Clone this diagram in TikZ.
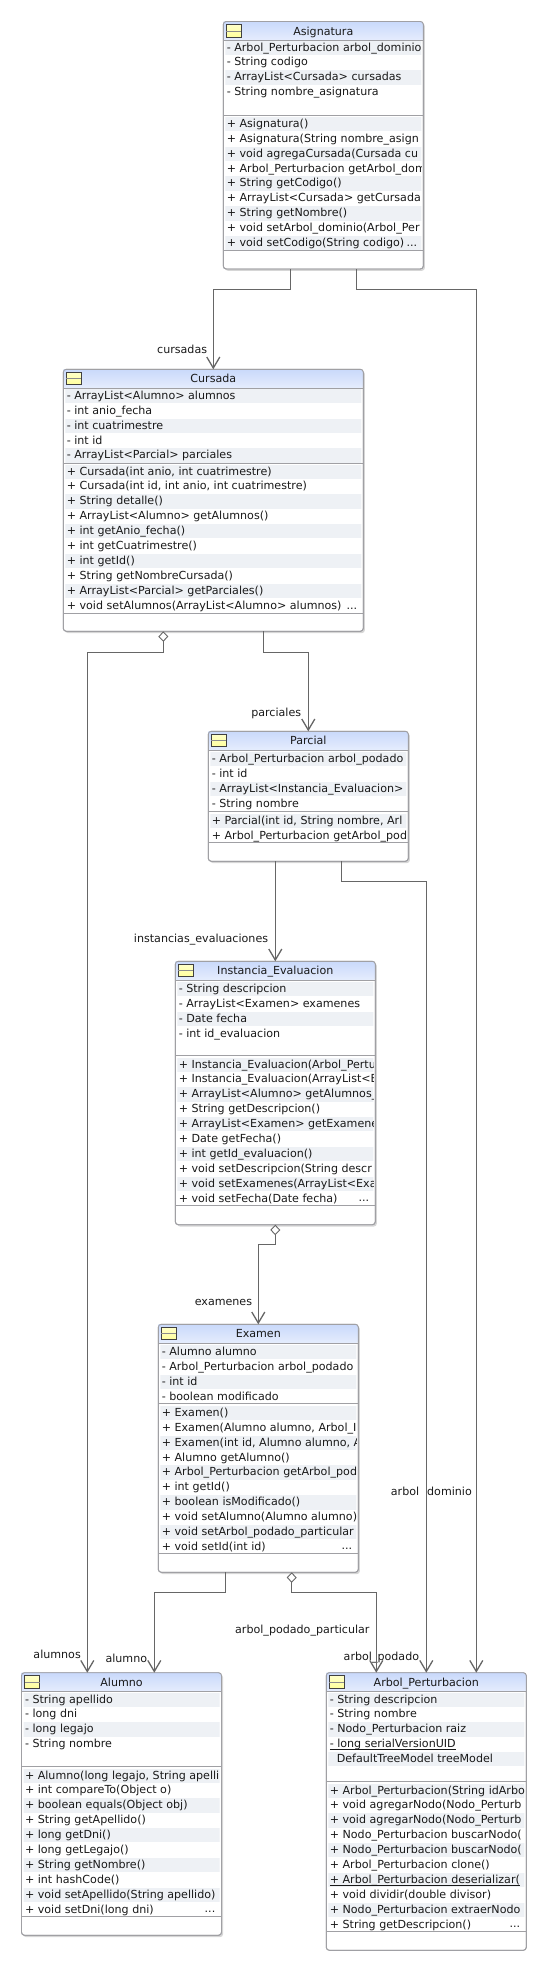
\documentclass[tikz,border=0pt]{standalone}
\usepackage{fontspec}
\setmainfont{DejaVu Sans}
\usetikzlibrary{arrows.meta}
\usetikzlibrary{shadows}
\usetikzlibrary{calc}
\definecolor{linegray}{HTML}{666666}
\definecolor{boxgray}{HTML}{A0A0A4}
\definecolor{stripe}{HTML}{EEF1F5}
\definecolor{headtop}{HTML}{C9D9FB}
\definecolor{headbot}{HTML}{E6EDFD}
\definecolor{iconfill}{HTML}{FFFF9C}
\tikzstyle{classbox}=[draw=boxgray,fill=white,rounded corners=3,line width=.9,inner sep=0,outer sep=0]
\tikzstyle{shadowed}=[drop shadow={shadow xshift=1.6pt,shadow yshift=-1.8pt,fill=black!32}]
\tikzstyle{rowtext}=[inner sep=0,anchor=west,text height=8pt,text depth=0pt,font=\fontsize{11.1}{13}\selectfont,text=black!90]
\tikzstyle{linktext}=[rowtext,anchor=east]
\tikzstyle{sepline}=[draw=boxgray,line width=.9]
\tikzstyle{assoc}=[draw=linegray,line width=1,-{Straight Barb[length=11pt,width=13pt,line width=1.3pt]}]
\tikzstyle{aggr}=[draw=linegray,line width=1,{Diamond[length=10.5pt,width=10pt,fill=white,line width=.9pt]}-{Straight Barb[length=11pt,width=13pt,line width=1.3pt]}]
% class box: name, centre x, top y, width, height, title, extra style
\newcommand{\umlclass}[7]{
  \node[classbox,anchor=north,minimum width=#4,minimum height=#5,#7] at (#2,#3) (#1) {};
  \shade[top color=headtop,bottom color=headbot,rounded corners=3]
    (#1.north west) -- (#1.north east) -- ([yshift=-19]#1.north east) [sharp corners] -- ([yshift=-19]#1.north west) -- cycle;
  \draw[draw=boxgray,line width=.9,rounded corners=3] (#1.south west) rectangle (#1.north east);
  \draw[sepline] ([yshift=-19]#1.north west) -- ([yshift=-19]#1.north east);
  \node[rowtext,anchor=center] at ([yshift=-9.5]#1.north) (#1-title) {#6};
  \node[draw=black!75,line width=.8,top color=iconfill!55,bottom color=iconfill,inner sep=0,outer sep=0,
    minimum width=15,minimum height=12.5,anchor=north west] at ([xshift=3,yshift=-3]#1.north west) (#1-icon) {};
  \draw[draw=black!45,line width=.5] (#1-icon.west) -- (#1-icon.east);
}
% striped rows: class name, row prefix, first row y, texts
\newcommand{\umlrows}[4]{
  \begin{scope}
    \clip ([xshift=2]#1.south west) rectangle ([xshift=-2]#1.north east);
    \foreach \rowtxt [count=\i] in {#4} {
      \pgfmathsetmacro{\rowy}{#3+14.9*(\i-1)}
      \ifodd\i
        \fill[stripe] ($(#1.west |- 0,\rowy)+(0,-6.5)$) rectangle ($(#1.east |- 0,\rowy)+(0,7.8)$);
      \fi
      \node[rowtext,xshift=3.3] at (#1.west |- 0,\rowy) (#1-#2\i) {\rowtxt};
    }
  \end{scope}
}
\begin{document}
\begin{tikzpicture}[x=1pt,y=-1pt]
  \useasboundingbox (0,0) rectangle (547,1971);

  \umlclass{asignatura}{323.3}{21.5}{200}{247.5}{Asignatura}{shadowed}
  \umlrows{asignatura}{a}{47}{- Arbol\_Perturbacion arbol\_dominio,- String codigo,- ArrayList<Cursada> cursadas,- String nombre\_asignatura}
  \umlrows{asignatura}{m}{123.3}{+ Asignatura(),+ Asignatura(String nombre\_asign,+ void agregaCursada(Cursada cu,+ Arbol\_Perturbacion getArbol\_dom,+ String getCodigo(),+ ArrayList<Cursada> getCursada,+ String getNombre(),+ void setArbol\_dominio(Arbol\_Per,+ void setCodigo(String codigo)}
  \node[rowtext,anchor=east,xshift=-6] at (asignatura.east |- 0,242) (asignatura-more) {...};
  \draw[sepline] (asignatura.west |- 0,115) -- (asignatura.east |- 0,115);
  \draw[sepline] (asignatura.west |- 0,250.7) -- (asignatura.east |- 0,250.7);

  \umlclass{cursada}{213.3}{369.3}{300}{262}{Cursada}{shadowed}
  \umlrows{cursada}{a}{395.3}{- ArrayList<Alumno> alumnos,- int anio\_fecha,- int cuatrimestre,- int id,- ArrayList<Parcial> parciales}
  \umlrows{cursada}{m}{471}{{+ Cursada(int anio, int cuatrimestre)},{+ Cursada(int id, int anio, int cuatrimestre)},+ String detalle(),+ ArrayList<Alumno> getAlumnos(),+ int getAnio\_fecha(),+ int getCuatrimestre(),+ int getId(),+ String getNombreCursada(),+ ArrayList<Parcial> getParciales(),+ void setAlumnos(ArrayList<Alumno> alumnos)}
  \node[rowtext,anchor=east,xshift=-6] at (cursada.east |- 0,605) (cursada-more) {...};
  \draw[sepline] (cursada.west |- 0,463.3) -- (cursada.east |- 0,463.3);
  \draw[sepline] (cursada.west |- 0,613.3) -- (cursada.east |- 0,613.3);

  \umlclass{parcial}{308.3}{731.3}{200}{130}{Parcial}{shadowed}
  \umlrows{parcial}{a}{758.3}{- Arbol\_Perturbacion arbol\_podado,- int id,- ArrayList<Instancia\_Evaluacion>,- String nombre}
  \umlrows{parcial}{m}{820.3}{{+ Parcial(int id, String nombre, Arl},+ Arbol\_Perturbacion getArbol\_pod}
  \draw[sepline] (parcial.west |- 0,811.3) -- (parcial.east |- 0,811.3);
  \draw[sepline] (parcial.west |- 0,842.3) -- (parcial.east |- 0,842.3);

  \umlclass{instancia}{275.3}{961.3}{200}{263.4}{Instancia\_Evaluacion}{shadowed}
  \umlrows{instancia}{a}{988.3}{- String descripcion,- ArrayList<Examen> examenes,- Date fecha,- int id\_evaluacion}
  \umlrows{instancia}{m}{1064}{+ Instancia\_Evaluacion(Arbol\_Pertu,+ Instancia\_Evaluacion(ArrayList<E,+ ArrayList<Alumno> getAlumnos\_,+ String getDescripcion(),+ ArrayList<Examen> getExamene,+ Date getFecha(),+ int getId\_evaluacion(),+ void setDescripcion(String descr,+ void setExamenes(ArrayList<Exa,+ void setFecha(Date fecha)}
  \node[rowtext,anchor=east,xshift=-6] at (instancia.east |- 0,1197) (instancia-more) {...};
  \draw[sepline] (instancia.west |- 0,1055.3) -- (instancia.east |- 0,1055.3);
  \draw[sepline] (instancia.west |- 0,1205.3) -- (instancia.east |- 0,1205.3);

  \umlclass{examen}{258.3}{1324.3}{200}{248}{Examen}{shadowed}
  \umlrows{examen}{a}{1351.3}{- Alumno alumno,- Arbol\_Perturbacion arbol\_podado,- int id,- boolean modificado}
  \umlrows{examen}{m}{1412.3}{+ Examen(),{+ Examen(Alumno alumno, Arbol\_I},{+ Examen(int id, Alumno alumno, A},+ Alumno getAlumno(),+ Arbol\_Perturbacion getArbol\_pod,+ int getId(),+ boolean isModificado(),+ void setAlumno(Alumno alumno),+ void setArbol\_podado\_particular,+ void setId(int id)}
  \node[rowtext,anchor=east,xshift=-6] at (examen.east |- 0,1545) (examen-more) {...};
  \draw[sepline] (examen.west |- 0,1403.3) -- (examen.east |- 0,1403.3);
  \draw[sepline] (examen.west |- 0,1553.3) -- (examen.east |- 0,1553.3);

  \umlclass{alumno}{121.5}{1672.7}{200}{262.6}{Alumno}{shadowed}
  \umlrows{alumno}{a}{1699}{- String apellido,- long dni,- long legajo,- String nombre}
  \umlrows{alumno}{m}{1775}{{+ Alumno(long legajo, String apelli},+ int compareTo(Object o),+ boolean equals(Object obj),+ String getApellido(),+ long getDni(),+ long getLegajo(),+ String getNombre(),+ int hashCode(),+ void setApellido(String apellido),+ void setDni(long dni)}
  \node[rowtext,anchor=east,xshift=-6] at (alumno.east |- 0,1908) (alumno-more) {...};
  \draw[sepline] (alumno.west |- 0,1766.3) -- (alumno.east |- 0,1766.3);
  \draw[sepline] (alumno.west |- 0,1916.3) -- (alumno.east |- 0,1916.3);

  \umlclass{arbol}{426.3}{1672.7}{200}{277.6}{Arbol\_Perturbacion}{}
  \umlrows{arbol}{a}{1699}{- String descripcion,- String nombre,- Nodo\_Perturbacion raiz,\underline{\smash{- long serialVersionUID}},\hspace*{7pt}DefaultTreeModel treeModel}
  \umlrows{arbol}{m}{1790}{+ Arbol\_Perturbacion(String idArbo,+ void agregarNodo(Nodo\_Perturb,+ void agregarNodo(Nodo\_Perturb,+ Nodo\_Perturbacion buscarNodo(,+ Nodo\_Perturbacion buscarNodo(,+ Arbol\_Perturbacion clone(),\underline{\smash{+ Arbol\_Perturbacion deserializar(}},+ void dividir(double divisor),+ Nodo\_Perturbacion extraerNodo,+ String getDescripcion()}
  \node[rowtext,anchor=east,xshift=-6] at (arbol.east |- 0,1923) (arbol-more) {...};
  \draw[sepline] (arbol.west |- 0,1781) -- (arbol.east |- 0,1781);
  \draw[sepline] (arbol.west |- 0,1931.3) -- (arbol.east |- 0,1931.3);

  % role names go under the connectors
  \node[linktext] at (207.3,349) (lbl-cursadas) {cursadas};
  \node[linktext] at (301.3,712.3) (lbl-parciales) {parciales};
  \node[linktext] at (268.3,938.3) (lbl-instancias) {instancias\_evaluaciones};
  \node[linktext] at (252.3,1301) (lbl-examenes) {examenes};
  \node[linktext] at (81,1654.3) (lbl-alumnos) {alumnos};
  \node[linktext] at (147.3,1658.3) (lbl-alumno) {alumno};
  \node[linktext] at (369.7,1629.3) (lbl-particular) {arbol\_podado\_particular};
  \node[linktext] at (419.3,1656.3) (lbl-podado) {arbol\_podado};
  \node[rowtext] at (390.7,1491.3) (lbl-dominio) {arbol\hspace{8pt}dominio};

  \draw[assoc] ([xshift=-32.6]asignatura.south) -- ++(0,20) -| (cursada.north);
  \draw[assoc] ([xshift=32.7]asignatura.south) -- ++(0,20) -| ([xshift=50]arbol.north);
  \draw[aggr] ([xshift=-50]cursada.south) -- ++(0,21) -| ([xshift=-34.2]alumno.north);
  \draw[assoc] ([xshift=50]cursada.south) -- ++(0,21) -| (parcial.north);
  \draw[assoc] ([xshift=-33]parcial.south) -- (instancia.north);
  \draw[assoc] ([xshift=33]parcial.south) -- ++(0,20) -| (arbol.north);
  \draw[aggr] (instancia.south) -- ++(0,19.6) -| (examen.north);
  \draw[assoc] ([xshift=-32.6]examen.south) -- ++(0,20.4) -| ([xshift=32.8]alumno.north);
  \draw[aggr] ([xshift=33.4]examen.south) -- ++(0,20.4) -| ([xshift=-50]arbol.north);
\end{tikzpicture}
\end{document}
